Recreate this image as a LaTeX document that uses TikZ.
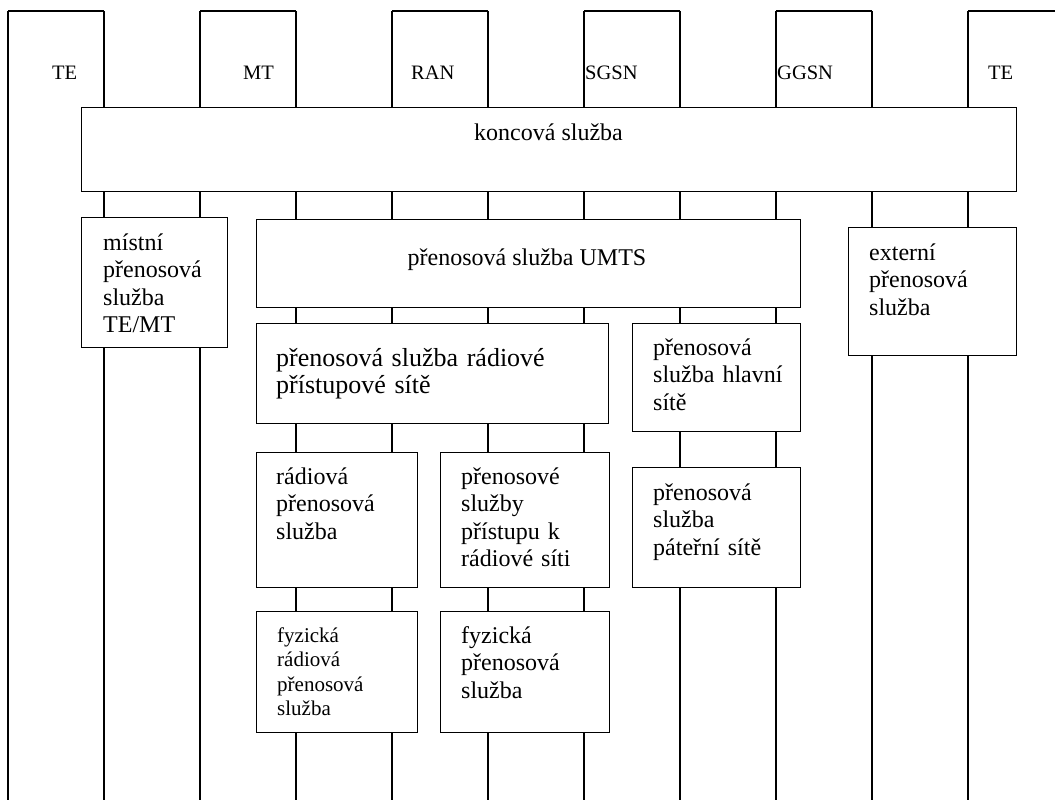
\documentclass[tikz,border=0pt]{standalone}
\usepackage{fontspec}
\setmainfont{Liberation Serif}
\begin{document}
\begin{tikzpicture}[x=1pt,y=-1pt,
  box/.style={draw, fill=white, line width=1.4pt, inner sep=0pt, anchor=north west},
  wire/.style={line width=1.4pt},
  txt/.style={inner sep=0pt, anchor=base west, align=left, text width=#1},
  txt/.default=200pt,
  ftop/.style={font=\fontsize{20.5}{24}\selectfont},
  fnorm/.style={font=\fontsize{24}{27.5}\selectfont},
  fbig/.style={font=\fontsize{26}{27}\selectfont},
  fsmall/.style={font=\fontsize{21}{24.5}\selectfont}]
\useasboundingbox (0,0) rectangle (1055,800);
% column lines
\foreach \xx in {8,104,200,296,392,488,584,680,776,872,968}{
  \coordinate (t\xx) at (\xx,11);
  \coordinate (b\xx) at (\xx,800);
  \draw[wire] (t\xx) -- (b\xx);
}
\coordinate (tend) at (1056,11);
\draw[wire] (t8) -- (t104);
\draw[wire] (t200) -- (t296);
\draw[wire] (t392) -- (t488);
\draw[wire] (t584) -- (t680);
\draw[wire] (t776) -- (t872);
\draw[wire] (t968) -- (tend);
% top labels
\node[ftop, inner sep=0pt, anchor=base west] (te1) at (52,79) {TE};
\node[ftop, inner sep=0pt, anchor=base west] (mt) at (243,79) {MT};
\node[ftop, inner sep=0pt, anchor=base west] (ran) at (411,79) {RAN};
\node[ftop, inner sep=0pt, anchor=base west] (sgsn) at (585,79) {SGSN};
\node[ftop, inner sep=0pt, anchor=base west] (ggsn) at (777,79) {GGSN};
\node[ftop, inner sep=0pt, anchor=base west] (te2) at (988,79) {TE};
% boxes
\node[box, minimum width=935pt, minimum height=84pt] (konc) at (81,107) {};
\node[box, minimum width=146pt, minimum height=130pt] (mist) at (81,217) {};
\node[box, minimum width=544pt, minimum height=88pt] (umts) at (256,219) {};
\node[box, minimum width=352pt, minimum height=100pt] (rad) at (256,323) {};
\node[box, minimum width=168pt, minimum height=108pt] (hlav) at (632,323) {};
\node[box, minimum width=168pt, minimum height=128pt] (ext) at (848,227) {};
\node[box, minimum width=161pt, minimum height=135pt] (radp) at (256,452) {};
\node[box, minimum width=169pt, minimum height=135pt] (prist) at (440,452) {};
\node[box, minimum width=168pt, minimum height=120pt] (pater) at (632,467) {};
\node[box, minimum width=161pt, minimum height=121pt] (fyzr) at (256,611) {};
\node[box, minimum width=169pt, minimum height=121pt] (fyzp) at (440,611) {};
% texts
\node[fnorm, inner sep=0pt, anchor=base] (konct) at (548.5,140) {koncová služba};
\node[fnorm, txt] (mistt) at (103,250) {místní\\přenosová\\služba\\TE/MT};
\node[fnorm, inner sep=0pt, anchor=base] (umtst) at (527,265) {přenosová služba UMTS};
\node[fbig, txt=330pt] (radt) at (276,366) {přenosová služba rádiové\\přístupové sítě};
\node[fnorm, txt] (hlavt) at (653,355) {přenosová\\služba hlavní\\sítě};
\node[fnorm, txt] (extt) at (869,260) {externí\\přenosová\\služba};
\node[fnorm, txt] (radpt) at (276,484) {rádiová\\přenosová\\služba};
\node[fnorm, txt] (pristt) at (461,484) {přenosové\\služby\\přístupu k\\rádiové síti};
\node[fnorm, txt] (patert) at (653,500) {přenosová\\služba\\páteřní sítě};
\node[fsmall, txt] (fyzrt) at (277,642) {fyzická\\rádiová\\přenosová\\služba};
\node[fnorm, txt] (fyzpt) at (461,643) {fyzická\\přenosová\\služba};
\end{tikzpicture}
\end{document}
